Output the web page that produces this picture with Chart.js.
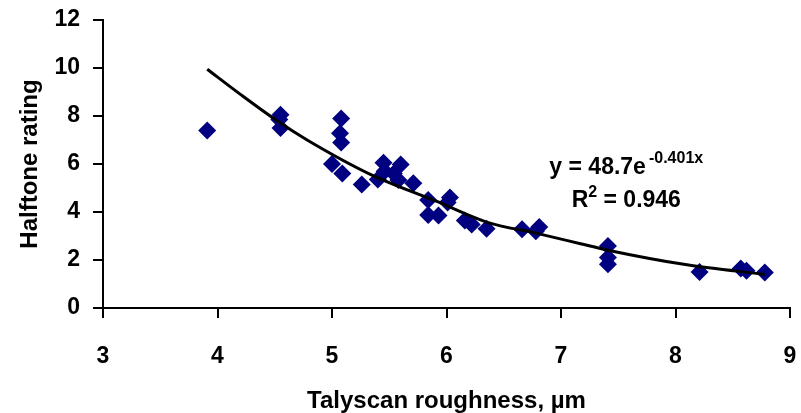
<!DOCTYPE html>
<html>
<head>
<meta charset="utf-8">
<script src="https://cdn.jsdelivr.net/npm/chart.js@4/dist/chart.umd.min.js"></script>
<style>
  html, body { margin: 0; padding: 0; background: #fff; }
  #wrap { width: 801px; height: 413px; }
</style>
</head>
<body>
<div id="wrap"><canvas id="chart"></canvas></div>
<script>
// measured points (roughness µm, halftone rating)
const roughness = [3.91, 4.55, 4.54, 4.55, 5.08, 5.07, 5.08, 5.00, 5.09, 5.26,
    5.45, 5.46, 5.40, 5.54, 5.60, 5.58, 5.71, 5.84, 5.84, 5.93,
    6.01, 6.03, 6.16, 6.22, 6.35, 6.66, 6.81, 6.78, 7.41, 7.41,
    7.41, 8.21, 8.57, 8.62, 8.78];
const rating = [7.40, 8.05, 7.85, 7.50, 7.90, 7.28, 6.90, 6.00, 5.60, 5.15,
    6.05, 5.70, 5.35, 5.60, 5.98, 5.33, 5.20, 4.50, 3.88, 3.85,
    4.40, 4.60, 3.65, 3.48, 3.30, 3.28, 3.38, 3.20, 2.58, 2.10,
    1.82, 1.50, 1.65, 1.55, 1.48];

// trendline
const trendX = [3.91, 4.20, 4.52, 4.79, 5.33, 5.91, 6.35, 6.80, 7.17, 7.40, 8.10, 8.78];
const trendY = [9.95, 8.90, 7.80, 6.98, 5.58, 4.45, 3.58, 3.10, 2.68, 2.42, 1.80, 1.40];

const xTicks = [3, 4, 5, 6, 7, 8, 9];
const yTicks = [0, 2, 4, 6, 8, 10, 12];

const eqMain = 'y = 48.7e';
const eqSup = '-0.401x';
const r2Main = 'R';
const r2Sup = '2';
const r2Rest = ' = 0.946';

const FONT = '"Liberation Sans", Arial, sans-serif';

// equation label, anchored in data units
const eqPlugin = {
    id: 'eqLabel',
    afterDatasetsDraw(chart) {
        const { ctx, scales } = chart;
        const cx = scales.x.getPixelForValue(7.57);
        const y1 = scales.y.getPixelForValue(5.6);
        const y2 = scales.y.getPixelForValue(4.2);
        const big = 'bold 23px ' + FONT;
        const small = 'bold 16px ' + FONT;
        ctx.save();
        ctx.fillStyle = '#000';
        ctx.textBaseline = 'alphabetic';
        ctx.textAlign = 'left';

        ctx.font = big;
        const w1 = ctx.measureText(eqMain).width;
        ctx.font = small;
        const w2 = ctx.measureText(eqSup).width;
        let x = cx - (w1 + w2 + 3) / 2;
        ctx.font = big;
        ctx.fillText(eqMain, x, y1);
        ctx.font = small;
        ctx.fillText(eqSup, x + w1 + 3, y1 - 11);

        ctx.font = big;
        const wr = ctx.measureText(r2Main).width;
        const wrest = ctx.measureText(r2Rest).width;
        ctx.font = small;
        const ws = ctx.measureText(r2Sup).width;
        x = cx - (wr + ws + wrest) / 2;
        ctx.font = big;
        ctx.fillText(r2Main, x, y2);
        ctx.font = small;
        ctx.fillText(r2Sup, x + wr, y2 - 10);
        ctx.font = big;
        ctx.fillText(r2Rest, x + wr + ws, y2);
        ctx.restore();
    }
};

new Chart(document.getElementById('chart'), {
    type: 'scatter',
    data: {
        datasets: [{
            label: 'trend',
            data: trendX.map((v, i) => ({ x: v, y: trendY[i] })),
            showLine: true,
            borderColor: '#000',
            borderWidth: 3,
            pointRadius: 0,
            cubicInterpolationMode: 'monotone',
            fill: false
        }, {
            label: 'Halftone rating',
            data: roughness.map((v, i) => ({ x: v, y: rating[i] })),
            pointStyle: 'rectRot',
            pointRadius: 9,
            pointBackgroundColor: '#000080',
            pointBorderColor: '#000080',
            pointBorderWidth: 0
        }]
    },
    options: {
        responsive: true,
        maintainAspectRatio: false,
        animation: false,
        layout: { autoPadding: false, padding: { top: 20, right: 11, bottom: 0, left: 6 } },
        plugins: { legend: { display: false }, tooltip: { enabled: false } },
        scales: {
            x: {
                type: 'linear',
                min: 3, max: 9,
                afterBuildTicks: s => { s.ticks = xTicks.map(v => ({ value: v })); },
                afterFit: s => { s.height = 105; s.paddingLeft = 0; s.paddingRight = 0; },
                grid: { drawOnChartArea: false, color: '#000', lineWidth: 2, tickLength: 10 },
                border: { color: '#000', width: 2 },
                ticks: { color: '#000', padding: 25, font: { family: FONT, size: 23, weight: 'bold' } },
                title: {
                    display: true,
                    text: 'Talyscan roughness, µm',
                    color: '#000',
                    font: { family: FONT, size: 24, weight: 'bold' },
                    padding: { top: 0, bottom: -3 }
                }
            },
            y: {
                min: 0, max: 12,
                afterBuildTicks: s => { s.ticks = yTicks.map(v => ({ value: v })); },
                afterFit: s => { s.width = 97; s.paddingTop = 0; s.paddingBottom = 0; },
                grid: { drawOnChartArea: false, color: '#000', lineWidth: 2, tickLength: 10 },
                border: { color: '#000', width: 2 },
                ticks: { color: '#000', padding: 13, font: { family: FONT, size: 23, weight: 'bold' } },
                title: {
                    display: true,
                    text: 'Halftone rating',
                    color: '#000',
                    font: { family: FONT, size: 24, weight: 'bold' },
                    padding: { top: 10, bottom: 0 }
                }
            }
        }
    },
    plugins: [eqPlugin]
});
</script>
</body>
</html>
